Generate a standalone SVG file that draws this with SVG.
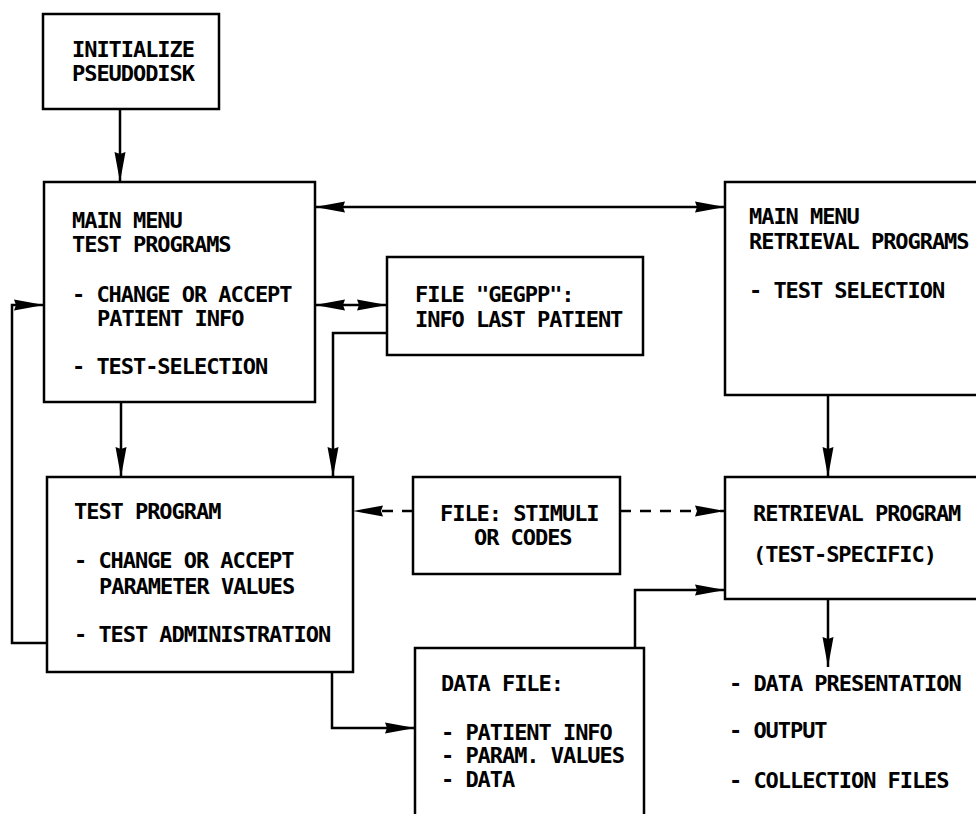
<svg xmlns="http://www.w3.org/2000/svg" width="976" height="814" viewBox="0 0 976 814">
<defs>
<style>
.box{fill:none;stroke:#000;stroke-width:2.5}
.ln{fill:none;stroke:#000;stroke-width:2.5}
.dash{stroke-dasharray:11,9}
text{font-family:"DejaVu Sans Mono","Liberation Mono",monospace;font-size:22px;letter-spacing:-1.05px;font-weight:bold;fill:#000}
</style>
<marker id="ah" viewBox="0 0 30 12" refX="30" refY="6" markerWidth="30" markerHeight="12" markerUnits="userSpaceOnUse" orient="auto-start-reverse">
<path d="M0,0.5 L30,6 L0,11.5 L2,6 Z" fill="#000"/>
</marker>
</defs>
<rect width="976" height="814" fill="#fff"/>

<g id="init">
<rect class="box" x="43" y="14" width="176" height="95"/>
<text x="72" y="57">INITIALIZE</text>
<text x="72" y="81">PSEUDODISK</text>
</g>

<g id="mainmenu-test">
<rect class="box" x="44" y="182" width="271" height="220"/>
<text x="72" y="228">MAIN MENU</text>
<text x="72" y="252">TEST PROGRAMS</text>
<text x="72" y="302">- CHANGE OR ACCEPT</text>
<text x="97" y="326">PATIENT INFO</text>
<text x="72" y="374">- TEST-SELECTION</text>
</g>

<g id="gegpp">
<rect class="box" x="387" y="257" width="256" height="98"/>
<text x="415" y="302">FILE "GEGPP":</text>
<text x="415" y="327">INFO LAST PATIENT</text>
</g>

<g id="mainmenu-retrieval">
<path class="box" d="M980,182 H725 V395 H980"/>
<text x="749" y="224">MAIN MENU</text>
<text x="749" y="249">RETRIEVAL PROGRAMS</text>
<text x="749" y="298">- TEST SELECTION</text>
</g>

<g id="test-program">
<rect class="box" x="47" y="477" width="306" height="195"/>
<text x="74" y="519">TEST PROGRAM</text>
<text x="74" y="568">- CHANGE OR ACCEPT</text>
<text x="99" y="594">PARAMETER VALUES</text>
<text x="74" y="642">- TEST ADMINISTRATION</text>
</g>

<g id="stimuli">
<rect class="box" x="413" y="477" width="207" height="97"/>
<text x="440" y="521">FILE: STIMULI</text>
<text x="474" y="545">OR CODES</text>
</g>

<g id="retrieval-program">
<path class="box" d="M980,477 H725 V599 H980"/>
<text x="753" y="521">RETRIEVAL PROGRAM</text>
<text x="753" y="562">(TEST-SPECIFIC)</text>
</g>

<g id="data-file">
<path class="box" d="M415,816 V648 H644 V816"/>
<text x="441" y="691">DATA FILE:</text>
<text x="441" y="740">- PATIENT INFO</text>
<text x="441" y="763">- PARAM. VALUES</text>
<text x="441" y="787">- DATA</text>
</g>

<g id="outputs">
<text x="729" y="691">- DATA PRESENTATION</text>
<text x="729" y="738">- OUTPUT</text>
<text x="729" y="788">- COLLECTION FILES</text>
</g>

<g id="connectors">
<line class="ln" x1="120" y1="109" x2="120" y2="182" marker-end="url(#ah)"/>
<line class="ln" x1="315" y1="207" x2="725" y2="207" marker-start="url(#ah)" marker-end="url(#ah)"/>
<line class="ln" x1="315" y1="305" x2="387" y2="305" marker-start="url(#ah)" marker-end="url(#ah)"/>
<polyline class="ln" points="47,643 12,643 12,305 44,305" marker-end="url(#ah)"/>
<polyline class="ln" points="387,333 333,333 333,477" marker-end="url(#ah)"/>
<line class="ln" x1="121" y1="402" x2="121" y2="477" marker-end="url(#ah)"/>
<line class="ln dash" x1="413" y1="511" x2="353" y2="511" marker-end="url(#ah)"/>
<line class="ln dash" x1="620" y1="511" x2="725" y2="511" marker-end="url(#ah)"/>
<polyline class="ln" points="332,672 332,728 415,728" marker-end="url(#ah)"/>
<polyline class="ln" points="635,648 635,590 725,590" marker-end="url(#ah)"/>
<line class="ln" x1="828" y1="395" x2="828" y2="477" marker-end="url(#ah)"/>
<line class="ln" x1="828" y1="599" x2="828" y2="667" marker-end="url(#ah)"/>
</g>
</svg>
